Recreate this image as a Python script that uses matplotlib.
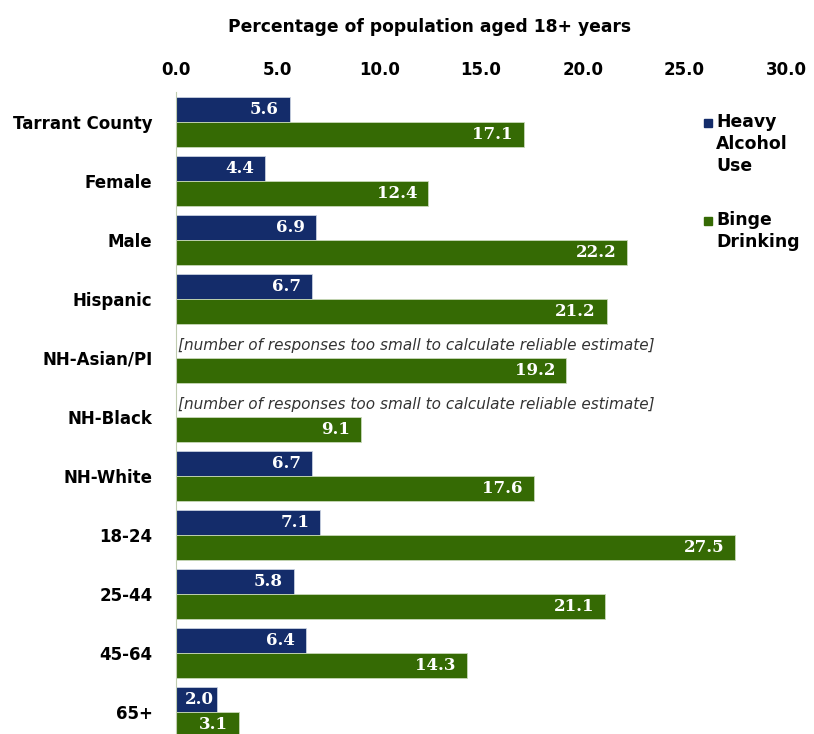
import numpy as np
import matplotlib.pyplot as plt

categories = ['Tarrant County', 'Female', 'Male', 'Hispanic', 'NH-Asian/PI',
              'NH-Black', 'NH-White', '18-24', '25-44', '45-64', '65+']
heavy = [5.6, 4.4, 6.9, 6.7, None, None, 6.7, 7.1, 5.8, 6.4, 2.0]
binge = [17.1, 12.4, 22.2, 21.2, 19.2, 9.1, 17.6, 27.5, 21.1, 14.3, 3.1]
ticks = [0, 5, 10, 15, 20, 25, 30]
note = '[number of responses too small to calculate reliable estimate]'

navy = '#142c6a'
green = '#356a04'

fig = plt.figure(figsize=(8.14, 7.34), dpi=100)
ax = fig.add_axes([0.2162, -0.0102, 0.7494, 0.8842])

y = np.arange(len(categories))
h = 0.424


def label(v, yy):
    # Excel puts labels at the inside end, squeezed when the bar is short
    off = -8 if v >= 2.5 else -2
    ax.annotate(f'{v:.1f}', (v, yy), xytext=(off, 0), textcoords='offset points',
                ha='right', va='center', color='white', fontsize=12,
                fontweight='bold', family='DejaVu Serif')


for i, (hv, bg) in enumerate(zip(heavy, binge)):
    if hv is not None:
        ax.barh(y[i] - h / 2, hv, height=h, color=navy, edgecolor='#c8d0e0', linewidth=0.6)
        label(hv, y[i] - h / 2)
    else:
        ax.text(0.1, y[i] - h / 2, note, ha='left', va='center', fontsize=11,
                style='italic', color='#333333')
    ax.barh(y[i] + h / 2, bg, height=h, color=green, edgecolor='#c8d8b8', linewidth=0.6)
    label(bg, y[i] + h / 2)

ax.set_xlim(0, 30)
ax.set_ylim(len(categories) - 0.5, -0.5)
ax.xaxis.tick_top()
ax.set_xticks(ticks)
ax.set_xticklabels([f'{t:.1f}' for t in ticks], fontsize=12, fontweight='bold')
ax.tick_params(axis='x', length=0, pad=10)
ax.set_yticks(y)
ax.set_yticklabels(categories, fontsize=12, fontweight='bold')
ax.tick_params(axis='y', length=0, pad=17)
for s in ['top', 'right', 'bottom']:
    ax.spines[s].set_visible(False)
ax.spines['left'].set_color('#c0ccb0')

fig.text(0.528, 0.963, 'Percentage of population aged 18+ years', ha='center', va='center',
         fontsize=12.3, fontweight='bold')

# legend
fig.patches.append(plt.Rectangle((704 / 814, 1 - 127 / 734), 8 / 814, 8 / 734,
                                 transform=fig.transFigure, color=navy))
fig.text(716 / 814, 1 - 113 / 734, 'Heavy\nAlcohol\nUse', ha='left', va='top',
         fontsize=12.4, fontweight='bold', linespacing=1.3)
fig.patches.append(plt.Rectangle((704 / 814, 1 - 225 / 734), 8 / 814, 8 / 734,
                                 transform=fig.transFigure, color=green))
fig.text(716 / 814, 1 - 211 / 734, 'Binge\nDrinking', ha='left', va='top',
         fontsize=12.4, fontweight='bold', linespacing=1.3)

fig.savefig('out.png', dpi=100)
